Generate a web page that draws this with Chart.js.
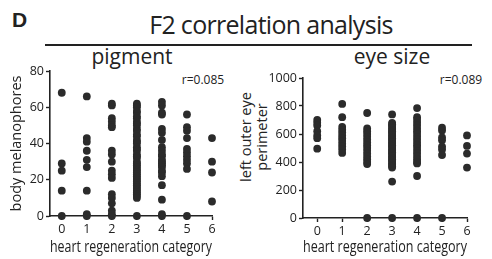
<!DOCTYPE html>
<html lang="en">
<head>
    <meta charset="UTF-8">
    <title>F2 correlation analysis</title>
    <script src="https://cdn.jsdelivr.net/npm/chart.js"></script>
    <style>
        body {
            margin: 0;
            padding: 0;
            background-color: #fff;
            font-family: 'Open Sans', sans-serif;
            color: #222;
        }

        .page {
            position: relative;
            width: 492px;
            height: 259px;
            overflow: hidden;
        }

        .label {
            position: absolute;
            line-height: 1;
            white-space: nowrap;
        }

        .panel-letter {
            left: 12px;
            top: 9px;
            font-family: 'Liberation Sans', Arial, sans-serif;
            font-weight: bold;
            font-size: 21px;
        }

        .main-title {
            left: 271px;
            top: 12px;
            font-size: 25px;
            letter-spacing: -0.7px;
            transform: translateX(-50%);
        }

        .rule {
            position: absolute;
            left: 45px;
            top: 44px;
            width: 427px;
            height: 2px;
            background-color: #222;
        }

        .sub-title {
            top: 46px;
            font-size: 21px;
            transform: translateX(-50%);
        }

        .r-value {
            top: 74px;
            font-size: 12px;
            transform: translateX(-50%);
        }

        .y-title-right {
            position: absolute;
            left: 254px;
            top: 137px;
            width: 140px;
            font-size: 14.5px;
            line-height: 16.3px;
            text-align: center;
            transform: translate(-50%, -50%) rotate(-90deg);
        }

        .chart-box {
            position: absolute;
            top: 55px;
        }
    </style>
</head>
<body>
    <div class="page">
        <div class="label panel-letter">D</div>
        <div class="label main-title">F2 correlation analysis</div>
        <div class="rule"></div>
        <div class="label sub-title" style="left: 132px;">pigment</div>
        <div class="label sub-title" style="left: 392px;">eye size</div>
        <div class="label r-value" style="left: 203px;">r=0.085</div>
        <div class="label r-value" style="left: 461px;">r=0.089</div>
        <div class="y-title-right">left outer eye<br>perimeter</div>

        <div class="chart-box" style="left: 0px;">
            <canvas id="pigmentChart" width="240" height="204"></canvas>
        </div>
        <div class="chart-box" style="left: 234px;">
            <canvas id="eyeChart" width="258" height="204"></canvas>
        </div>
    </div>

    <script>
        // heart regeneration categories (x axis)
        const categories = [0, 1, 2, 3, 4, 5, 6];

        // body melanophores per fish, one list per category
        const pigmentByCategory = [
            [68, 29, 25, 14, 0],
            [66, 43, 41, 36, 31, 27, 14, 1, 0],
            [62, 61, 54, 52, 50, 49, 36, 34, 30, 25, 23, 21, 12, 10, 7, 3, 1, 0],
            [62, 61, 60, 58, 57, 55, 54, 52, 51, 50, 48, 47, 45, 44, 42, 41, 40, 38, 37, 36, 34, 33, 32,
             30, 29, 28, 27, 26, 25, 24, 23, 22, 21, 20, 19, 18, 17, 16, 15, 14, 13, 12, 11, 10, 0],
            [63, 61, 57, 56, 48, 46, 42, 38, 36, 34, 33, 31, 30, 29, 28, 27, 25, 24, 22, 17, 9, 1, 0],
            [56, 49, 47, 43, 37, 35, 33, 31, 29, 26, 0],
            [43, 30, 24, 8]
        ];

        // left outer eye perimeter per fish, one list per category
        const eyeByCategory = [
            [700, 680, 660, 620, 590, 570, 495],
            [815, 720, 650, 630, 610, 590, 570, 550, 530, 510, 490, 465],
            [750, 640, 620, 600, 580, 560, 540, 520, 500, 480, 460, 440, 420, 400, 385, 0],
            [740, 680, 670, 660, 650, 640, 630, 620, 610, 600, 590, 580, 570, 560, 550, 540, 530, 520,
             510, 500, 490, 480, 470, 460, 450, 440, 430, 420, 410, 400, 390, 380, 370, 360, 260, 0],
            [785, 720, 700, 680, 660, 640, 620, 600, 580, 560, 540, 520, 500, 480, 460, 440, 420, 400, 390, 300, 0],
            [645, 625, 575, 555, 510, 490, 450, 0],
            [590, 515, 460, 360]
        ];

        const pigmentTicks = [0, 20, 40, 60, 80];
        const eyeTicks = [0, 200, 400, 600, 800, 1000];

        Chart.defaults.font.family = "'Open Sans', sans-serif";
        Chart.defaults.color = '#222';

        function toPoints(byCategory) {
            return categories.flatMap((c, i) => byCategory[i].map(v => ({ x: c, y: v })));
        }

        function makeChart(id, byCategory, yTicks, opts) {
            const ctx = document.getElementById(id).getContext('2d');
            return new Chart(ctx, {
                type: 'scatter',
                data: {
                    datasets: [{
                        data: toPoints(byCategory),
                        backgroundColor: '#2b2b2b',
                        borderWidth: 0,
                        pointRadius: 3.9,
                        clip: false
                    }]
                },
                options: {
                    responsive: false,
                    animation: false,
                    devicePixelRatio: 1,
                    layout: { padding: opts.padding },
                    plugins: {
                        legend: { display: false },
                        tooltip: { enabled: false }
                    },
                    scales: {
                        x: {
                            type: 'linear',
                            min: opts.xMin,
                            max: categories[categories.length - 1],
                            afterBuildTicks: scale => { scale.ticks = categories.map(v => ({ value: v })); },
                            afterFit: scale => { scale.height = opts.xHeight; },
                            border: { display: true, color: '#222', width: 1.6 },
                            grid: { drawOnChartArea: false, drawTicks: true, tickLength: 4, color: '#222', tickWidth: 1.4 },
                            ticks: { padding: 2, font: { size: 12.5 }, callback: v => String(v) },
                            title: {
                                display: true,
                                text: 'heart regeneration category',
                                font: { size: 17 },
                                padding: { top: 0, bottom: 2 }
                            }
                        },
                        y: {
                            min: yTicks[0],
                            max: yTicks[yTicks.length - 1],
                            afterBuildTicks: scale => { scale.ticks = yTicks.map(v => ({ value: v })); },
                            afterFit: scale => { scale.width = opts.yWidth; },
                            border: { display: true, color: '#222', width: 1.6 },
                            grid: { drawOnChartArea: false, drawTicks: true, tickLength: 4, color: '#222', tickWidth: 1.4 },
                            ticks: { padding: 2, font: { size: 12.5 }, callback: v => String(v) },
                            title: {
                                display: opts.yTitle !== null,
                                text: opts.yTitle,
                                font: { size: 14.5 },
                                padding: { top: 8, bottom: 0 }
                            }
                        }
                    }
                }
            });
        }

        makeChart('pigmentChart', pigmentByCategory, pigmentTicks, {
            padding: { left: 0, right: 28, top: 16, bottom: 0 },
            xMin: -0.47,
            xHeight: 43,
            yWidth: 50,
            yTitle: 'body melanophores'
        });

        makeChart('eyeChart', eyeByCategory, eyeTicks, {
            padding: { left: 0, right: 25, top: 23, bottom: 0 },
            xMin: -0.57,
            xHeight: 41,
            yWidth: 69,
            yTitle: null
        });
    </script>
</body>
</html>
